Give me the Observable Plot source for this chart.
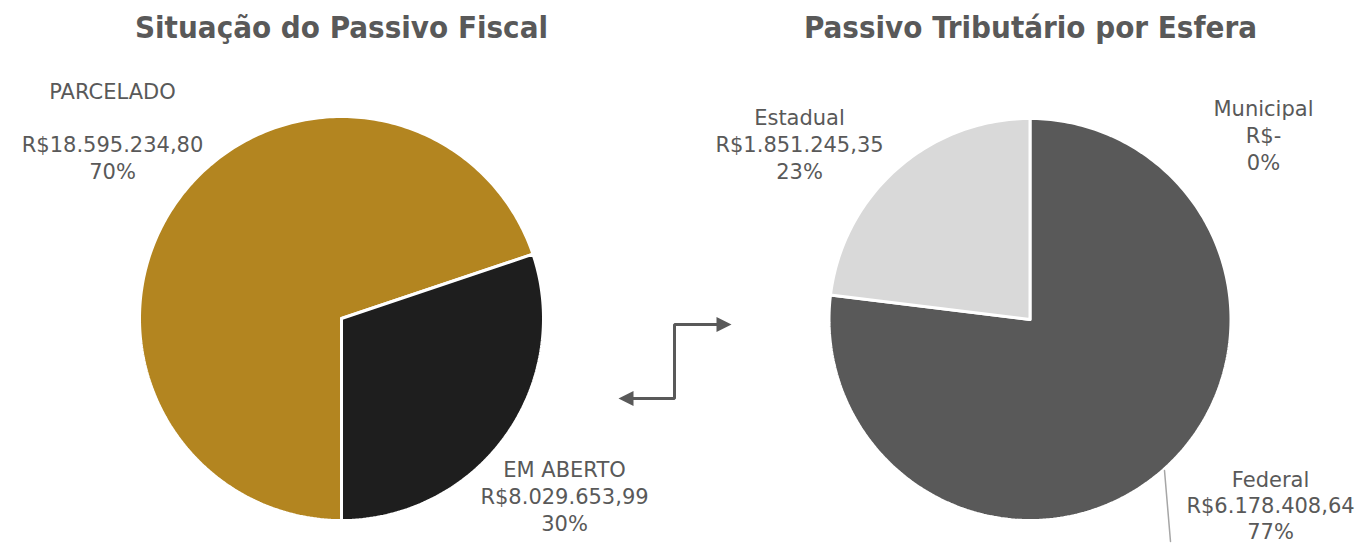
<!DOCTYPE html>
<html>
<head>
<meta charset="utf-8">
<script src="https://cdn.jsdelivr.net/npm/d3@7"></script>
<script src="https://cdn.jsdelivr.net/npm/@observablehq/plot@0.6"></script>
<style>
  html, body { margin: 0; padding: 0; background: #fff; }
  #chart svg { display: block; }
</style>
</head>
<body>
<div id="chart"></div>
<script>
// ---- Data ----
const situacaoCategories = ["PARCELADO", "EM ABERTO"];
const situacaoValues = [18595234.80, 8029653.99];
const situacaoLabels = ["R$18.595.234,80", "R$8.029.653,99"];
const situacaoPct = ["70%", "30%"];

const esferaCategories = ["Federal", "Estadual", "Municipal"];
const esferaValues = [6178408.64, 1851245.35, 0];
const esferaLabels = ["R$6.178.408,64", "R$1.851.245,35", "R$-"];
const esferaPct = ["77%", "23%", "0%"];

const titles = ["Situação do Passivo Fiscal", "Passivo Tributário por Esfera"];

// ---- Layout ----
const W = 1358, H = 544;
const TITLE_FONT = "'DejaVu Sans Condensed', 'DejaVu Sans', sans-serif";
const LABEL_FONT = "'DejaVu Sans', sans-serif";
const TXT = "#595959";

function slices(cats, vals, colors, cx, cy, r, startDeg) {
  const total = d3.sum(vals);
  const pts = [];
  let a0 = startDeg;
  cats.forEach((c, i) => {
    const span = vals[i] / total * 360;
    if (span <= 0) { return; }
    const a1 = a0 + span;
    const n = Math.max(4, Math.ceil(span));
    pts.push({cat: c, color: colors[i], x: cx, y: cy});
    for (let k = 0; k <= n; k++) {
      const t = (a0 + (a1 - a0) * k / n) * Math.PI / 180;
      pts.push({cat: c, color: colors[i], x: cx + r * Math.sin(t), y: cy - r * Math.cos(t)});
    }
    pts.push({cat: c, color: colors[i], x: cx, y: cy});
    a0 = a1;
  });
  return pts;
}

const leftPie = slices(situacaoCategories, situacaoValues, ["#b38520", "#1e1e1e"], 341, 318, 202, 180);
const rightPie = slices(esferaCategories, esferaValues, ["#595959", "#d9d9d9", "#bfbfbf"], 1029.5, 319, 201, 0);

const labelBlocks = [
  {x: 112, y: 92, lines: [situacaoCategories[0], "", situacaoLabels[0], situacaoPct[0]], gap: 26.5},
  {x: 564, y: 470, lines: [situacaoCategories[1], situacaoLabels[1], situacaoPct[1]], gap: 27},
  {x: 799, y: 118, lines: [esferaCategories[1], esferaLabels[1], esferaPct[1]], gap: 27},
  {x: 1263, y: 109, lines: [esferaCategories[2], esferaLabels[2], esferaPct[2]], gap: 27},
  {x: 1270, y: 480, lines: [esferaCategories[0], esferaLabels[0], esferaPct[0]], gap: 26}
];
const labelRows = labelBlocks.flatMap(b => b.lines.map((t, i) => ({x: b.x, y: b.y + i * b.gap, text: t}))).filter(d => d.text);

const connector = [{x: 630, y: 398}, {x: 674, y: 398}, {x: 674, y: 324}, {x: 718, y: 324}];
const heads = [
  {id: "L", x: 618, y: 398}, {id: "L", x: 633, y: 390.5}, {id: "L", x: 633, y: 405.5},
  {id: "R", x: 731, y: 324}, {id: "R", x: 716, y: 316.5}, {id: "R", x: 716, y: 331.5}
];
const leader = [{x: 1164, y: 470}, {x: 1170, y: 541}];

const chart = Plot.plot({
  width: W, height: H,
  margin: 0,
  x: {domain: [0, W], range: [0, W], axis: null},
  y: {domain: [0, H], range: [0, H], axis: null},
  style: {fontFamily: LABEL_FONT, background: "#fff"},
  marks: [
    Plot.line(leftPie, {x: "x", y: "y", z: "cat", fill: "color", stroke: "#fff", strokeWidth: 3, strokeLinejoin: "miter", curve: "linear"}),
    Plot.line(rightPie, {x: "x", y: "y", z: "cat", fill: "color", stroke: "#fff", strokeWidth: 3, strokeLinejoin: "miter", curve: "linear"}),
    Plot.line(leader, {x: "x", y: "y", stroke: "#a6a6a6", strokeWidth: 1.5}),
    Plot.line(connector, {x: "x", y: "y", stroke: "#595959", strokeWidth: 3, strokeLinejoin: "miter"}),
    Plot.line(heads, {x: "x", y: "y", z: "id", fill: "#595959", stroke: "none"}),
    Plot.text(labelRows, {x: "x", y: "y", text: "text", fill: TXT, fontSize: 21, textAnchor: "middle", lineAnchor: "middle"}),
    Plot.text(titles, {x: (d, i) => [341, 1030][i], y: 28, text: d => d, fill: TXT, fontSize: 31, fontWeight: "bold", fontFamily: TITLE_FONT, textAnchor: "middle", lineAnchor: "middle"})
  ]
});
document.getElementById("chart").append(chart);
</script>
</body>
</html>
